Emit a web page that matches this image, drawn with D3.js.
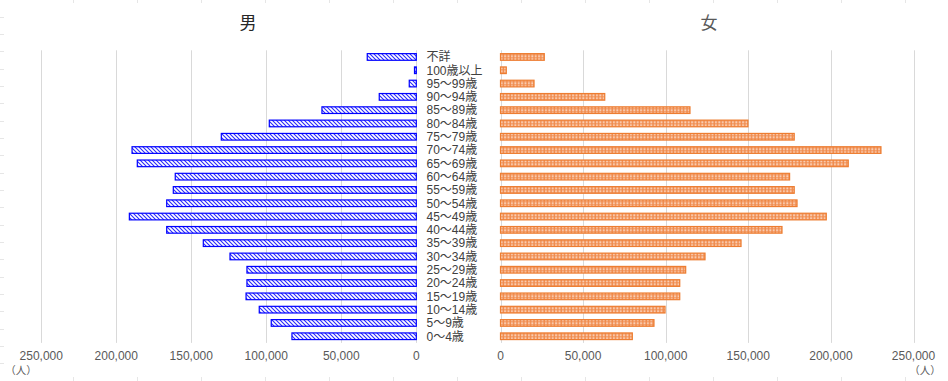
<!DOCTYPE html>
<html><head><meta charset="utf-8">
<script src="https://cdn.jsdelivr.net/npm/d3@7"></script>
<style>
body{margin:0;background:#fff;}
text{font-family:"Noto Sans CJK JP","Noto Sans",sans-serif;}
text.cat, text.tick, text.unit{font-family:"Liberation Sans","Noto Sans CJK JP",sans-serif;}
</style>
</head><body>
<svg id="c" width="948" height="381"></svg>
<script>
const categories = ["不詳","100歳以上","95～99歳","90～94歳","85～89歳","80～84歳","75～79歳","70～74歳","65～69歳","60～64歳","55～59歳","50～54歳","45～49歳","40～44歳","35～39歳","30～34歳","25～29歳","20～24歳","15～19歳","10～14歳","5～9歳","0～4歳"];
const maleValues = [32700,1200,4700,24700,62900,98000,130000,189500,186000,160700,162000,166400,191300,166400,142000,124200,112900,112900,113500,104700,96700,82900];
const femaleValues = [26500,3500,20300,63100,114700,149800,177800,230300,210500,175000,177800,179500,197200,170400,145600,123800,112100,108500,108500,99600,92900,79800];
const tickValues = [0,50000,100000,150000,200000,250000];
const titles = ["男","女"];
const unitLabel = "（人）";

(function(){
const svg = d3.select("#c");
const defs = svg.append("defs");

// male hatch pattern
const pm = defs.append("pattern").attr("id","hatchM").attr("patternUnits","userSpaceOnUse")
  .attr("width",4).attr("height",4);
pm.append("rect").attr("width",4).attr("height",4).attr("fill","#ffffff");
pm.append("path").attr("d","M-1,-1L5,5M-1,3L1,5M3,-1L5,1").attr("stroke","#2a2aff").attr("stroke-width",1.1);

// female grid pattern
const pf = defs.append("pattern").attr("id","gridF").attr("patternUnits","userSpaceOnUse")
  .attr("width",3.4).attr("height",3).attr("y",0.5);
pf.append("rect").attr("width",3.4).attr("height",3).attr("fill","#f08a4b");
pf.append("rect").attr("x",1).attr("y",0.9).attr("width",1.9).attr("height",1.6).attr("fill","#fde5d6");

// ruler-like faint edge ticks
const edge = svg.append("g").attr("stroke","#e6e6e6").attr("stroke-width",1);
d3.range(16.7, 381, 17.33).forEach(v=>edge.append("line").attr("x1",0).attr("x2",4).attr("y1",Math.round(v)+0.5).attr("y2",Math.round(v)+0.5));
d3.range(72.7, 948, 64.0).forEach(v=>{
  edge.append("line").attr("x1",Math.round(v)+0.5).attr("x2",Math.round(v)+0.5).attr("y1",377).attr("y2",381);
  edge.append("line").attr("x1",Math.round(v)+0.5).attr("x2",Math.round(v)+0.5).attr("y1",0).attr("y2",3);
});

const plotTop = 50.3, plotBottom = 342.9;
const y = d3.scaleBand().domain(categories).range([plotTop,plotBottom]).paddingInner(0.5).paddingOuter(0.25);
const xL = d3.scaleLinear().domain([0,250000]).range([416.3,41.3]);
const xR = d3.scaleLinear().domain([0,250000]).range([500.5,913.5]);
const fmt = d3.format(",");

function grid(x){
  svg.append("g").selectAll("line").data(tickValues).join("line")
    .attr("x1",d=>Math.round(x(d))+0.5).attr("x2",d=>Math.round(x(d))+0.5)
    .attr("y1",plotTop).attr("y2",plotBottom).attr("stroke","#d9d9d9").attr("stroke-width",1);
  svg.append("g").selectAll("text").data(tickValues).join("text")
    .attr("class","tick")
    .attr("x",d=>x(d)).attr("y",359.5).attr("text-anchor","middle")
    .attr("font-size",12).attr("fill","#595959").text(d=>fmt(d));
}
grid(xL); grid(xR);

// male bars
svg.append("g").selectAll("rect").data(categories).join("rect")
  .attr("x",(d,i)=>xL(maleValues[i])).attr("width",(d,i)=>xL(0)-xL(maleValues[i]))
  .attr("y",d=>y(d)).attr("height",y.bandwidth())
  .attr("fill","url(#hatchM)").attr("stroke","#0000ff").attr("stroke-width",1.2);

// female bars
svg.append("g").selectAll("rect").data(categories).join("rect")
  .attr("x",xR(0)).attr("width",(d,i)=>xR(femaleValues[i])-xR(0))
  .attr("y",d=>y(d)).attr("height",y.bandwidth())
  .attr("fill","url(#gridF)").attr("stroke","#ed7d31").attr("stroke-width",1.2);

// category labels
svg.append("g").selectAll("text").data(categories).join("text")
  .attr("class","cat")
  .attr("x",426.5).attr("y",d=>y(d)+y.bandwidth()/2).attr("dy","0.36em")
  .attr("font-size",12).attr("fill","#404040").text(d=>d);

// titles
svg.append("text").attr("x",248).attr("y",29).attr("text-anchor","middle")
  .attr("font-size",17).attr("fill","#262626").text(titles[0]);
svg.append("text").attr("x",709).attr("y",29).attr("text-anchor","middle")
  .attr("font-size",17).attr("fill","#595959").text(titles[1]);

// unit labels
svg.append("text").attr("class","unit").attr("x",21).attr("y",373.5).attr("text-anchor","middle")
  .attr("font-size",10.5).attr("fill","#595959").text(unitLabel);
svg.append("text").attr("class","unit").attr("x",925).attr("y",373.5).attr("text-anchor","middle")
  .attr("font-size",10.5).attr("fill","#595959").text(unitLabel);
})();
</script>
</body></html>
